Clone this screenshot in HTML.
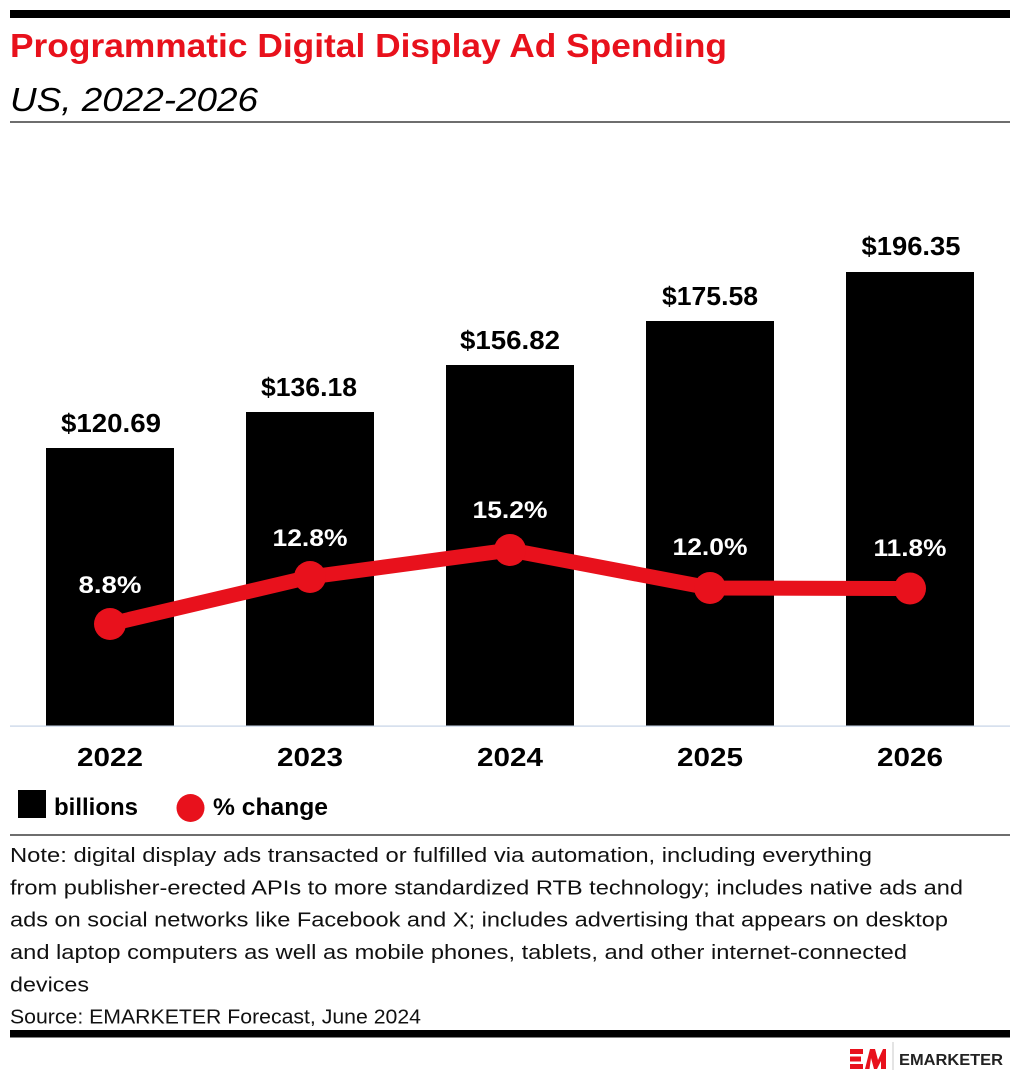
<!DOCTYPE html>
<html>
<head>
<meta charset="utf-8">
<style>
html,body{margin:0;padding:0;background:#fff;}
svg{display:block;}
text{font-family:"Liberation Sans",sans-serif;}
</style>
</head>
<body>
<svg width="1020" height="1080" viewBox="0 0 1020 1080" xmlns="http://www.w3.org/2000/svg">
  <rect x="0" y="0" width="1020" height="1080" fill="#fff"/>
  <!-- top bar -->
  <rect x="10" y="10" width="1000" height="8" fill="#000"/>
  <!-- title -->
  <text x="10" y="57" font-size="33" font-weight="bold" fill="#e8111c" textLength="717" lengthAdjust="spacingAndGlyphs">Programmatic Digital Display Ad Spending</text>
  <text x="10" y="111" font-size="33" font-style="italic" fill="#000" textLength="248" lengthAdjust="spacingAndGlyphs">US, 2022-2026</text>
  <rect x="10" y="121" width="1000" height="2" fill="#6e6e6e"/>

  <!-- bars -->
  <rect x="46" y="448" width="128" height="278" fill="#000"/>
  <rect x="246" y="412" width="128" height="314" fill="#000"/>
  <rect x="446" y="365" width="128" height="361" fill="#000"/>
  <rect x="646" y="321" width="128" height="405" fill="#000"/>
  <rect x="846" y="272" width="128" height="454" fill="#000"/>

  <!-- axis -->
  <rect x="10" y="725.5" width="1000" height="1.2" fill="#c6d3e6"/>

  <!-- value labels -->
  <g font-size="26" font-weight="bold" fill="#000" text-anchor="middle">
    <text x="111" y="432" textLength="100" lengthAdjust="spacingAndGlyphs">$120.69</text>
    <text x="309" y="396" textLength="96" lengthAdjust="spacingAndGlyphs">$136.18</text>
    <text x="510" y="349" textLength="100" lengthAdjust="spacingAndGlyphs">$156.82</text>
    <text x="710" y="305" textLength="96" lengthAdjust="spacingAndGlyphs">$175.58</text>
    <text x="911" y="255" textLength="99" lengthAdjust="spacingAndGlyphs">$196.35</text>
  </g>

  <!-- line -->
  <polyline points="110,624 310,577 510,550 710,588 910,588.5" fill="none" stroke="#e8111c" stroke-width="15" stroke-linejoin="round" stroke-linecap="round"/>
  <g fill="#e8111c">
    <circle cx="110" cy="624" r="16"/>
    <circle cx="310" cy="577" r="16"/>
    <circle cx="510" cy="550" r="16"/>
    <circle cx="710" cy="588" r="16"/>
    <circle cx="910" cy="588.5" r="16"/>
  </g>

  <!-- percent labels -->
  <g font-size="24" font-weight="bold" fill="#fff" text-anchor="middle">
    <text x="110" y="593" textLength="63" lengthAdjust="spacingAndGlyphs">8.8%</text>
    <text x="310" y="546" textLength="75" lengthAdjust="spacingAndGlyphs">12.8%</text>
    <text x="510" y="518" textLength="75" lengthAdjust="spacingAndGlyphs">15.2%</text>
    <text x="710" y="555" textLength="75" lengthAdjust="spacingAndGlyphs">12.0%</text>
    <text x="910" y="556" textLength="73" lengthAdjust="spacingAndGlyphs">11.8%</text>
  </g>

  <!-- year labels -->
  <g font-size="26" font-weight="bold" fill="#000" text-anchor="middle">
    <text x="110" y="766" textLength="66" lengthAdjust="spacingAndGlyphs">2022</text>
    <text x="310" y="766" textLength="66" lengthAdjust="spacingAndGlyphs">2023</text>
    <text x="510" y="766" textLength="66" lengthAdjust="spacingAndGlyphs">2024</text>
    <text x="710" y="766" textLength="66" lengthAdjust="spacingAndGlyphs">2025</text>
    <text x="910" y="766" textLength="66" lengthAdjust="spacingAndGlyphs">2026</text>
  </g>

  <!-- legend -->
  <rect x="18" y="790" width="28" height="28" fill="#000"/>
  <text x="54" y="815" font-size="24" font-weight="bold" fill="#000" textLength="84" lengthAdjust="spacingAndGlyphs">billions</text>
  <circle cx="190.5" cy="808" r="14" fill="#e8111c"/>
  <text x="213" y="815" font-size="24" font-weight="bold" fill="#000" textLength="115" lengthAdjust="spacingAndGlyphs">% change</text>

  <rect x="10" y="834" width="1000" height="2" fill="#6e6e6e"/>

  <!-- note -->
  <g font-size="20" fill="#111">
    <text x="10" y="862" textLength="862" lengthAdjust="spacingAndGlyphs">Note: digital display ads transacted or fulfilled via automation, including everything</text>
    <text x="10" y="894.3" textLength="953" lengthAdjust="spacingAndGlyphs">from publisher-erected APIs to more standardized RTB technology; includes native ads and</text>
    <text x="10" y="926.6" textLength="938" lengthAdjust="spacingAndGlyphs">ads on social networks like Facebook and X; includes advertising that appears on desktop</text>
    <text x="10" y="959" textLength="897" lengthAdjust="spacingAndGlyphs">and laptop computers as well as mobile phones, tablets, and other internet-connected</text>
    <text x="10" y="991.5" textLength="79" lengthAdjust="spacingAndGlyphs">devices</text>
    <text x="10" y="1023.5" textLength="411" lengthAdjust="spacingAndGlyphs">Source: EMARKETER Forecast, June 2024</text>
  </g>

  <!-- bottom bar -->
  <rect x="10" y="1030" width="1000" height="7.5" fill="#000"/>

  <!-- logo -->
  <g fill="#e8111c">
    <rect x="850" y="1049" width="13" height="5"/>
    <rect x="850" y="1056.5" width="11" height="5"/>
    <rect x="850" y="1064" width="13" height="5"/>
    <polygon points="865,1069 870,1049 875,1049 878,1060 883,1049 886,1049 886,1069 881,1069 881,1061 877,1069 874,1069 871,1058 869.5,1069"/>
  </g>
  <rect x="892.5" y="1042" width="1" height="28" fill="#c8c8c8"/>
  <text x="899" y="1065" font-size="15.5" font-weight="bold" fill="#222" textLength="104" lengthAdjust="spacingAndGlyphs">EMARKETER</text>
</svg>
</body>
</html>
